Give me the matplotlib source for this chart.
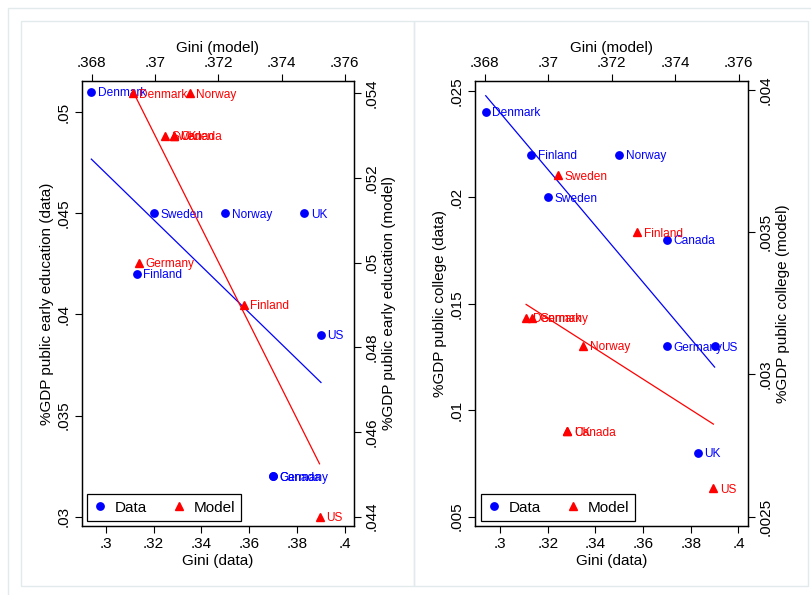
import matplotlib
matplotlib.use("Agg")
import matplotlib.pyplot as plt
import numpy as np
from matplotlib.lines import Line2D
from matplotlib.patches import Rectangle

plt.rcParams['font.family'] = ['Liberation Sans', 'DejaVu Sans']

countries = ['Denmark', 'Finland', 'Norway', 'Sweden', 'UK', 'US', 'Canada', 'Germany']
gini_data = [0.294, 0.313, 0.350, 0.320, 0.383, 0.390, 0.370, 0.370]
gini_model = [0.3693, 0.3728, 0.3711, 0.3703, 0.3706, 0.3752, 0.3706, 0.3695]
early_data = [0.051, 0.042, 0.045, 0.045, 0.045, 0.039, 0.032, 0.032]
early_model = [0.054, 0.049, 0.054, 0.053, 0.053, 0.044, 0.053, 0.050]
college_data = [0.024, 0.022, 0.022, 0.020, 0.008, 0.013, 0.018, 0.013]
college_model = [0.0032, 0.0035, 0.0031, 0.0037, 0.0028, 0.0026, 0.0028, 0.0032]

xticks_data = [0.30, 0.32, 0.34, 0.36, 0.38, 0.40]
xticks_model = [0.368, 0.370, 0.372, 0.374, 0.376]
early_ticks_data = [0.030, 0.035, 0.040, 0.045, 0.050]
early_ticks_model = [0.044, 0.046, 0.048, 0.050, 0.052, 0.054]
college_ticks_data = [0.005, 0.010, 0.015, 0.020, 0.025]
college_ticks_model = [0.0025, 0.0030, 0.0035, 0.0040]

W, H = 811, 595
fig = plt.figure(figsize=(W / 100, H / 100), dpi=100)


def stata(v):
    return f"{v:g}".lstrip('0')


def frac(x0, y0, x1, y1):
    # pixel box (top-left origin) -> figure fraction rect
    return [x0 / W, 1 - y1 / H, (x1 - x0) / W, (y1 - y0) / H]


for b in [(8, 8, 830, 620), (21, 21, 414, 586), (414, 21, 808, 586)]:
    r = frac(*b)
    fig.add_artist(Rectangle((r[0], r[1]), r[2], r[3], transform=fig.transFigure,
                             fill=False, ec='#e2eaec', lw=1))


def panel(box, yd, ym, ylim_d, ylim_m, yt_d, yt_m, ylab_d, ylab_m, xlim_d, leg_x):
    rect = frac(*box)
    ax = fig.add_axes(rect)
    axm = fig.add_axes(rect, facecolor='none')

    # data (blue): bottom x, left y
    ax.plot(gini_data, yd, 'o', color='blue', markersize=5.3, zorder=3)
    for name, x, y in zip(countries, gini_data, yd):
        ax.annotate(name, (x, y), xytext=(4.7, -1), textcoords='offset points',
                    va='center', ha='left', color='blue', fontsize=8.6)
    b1, b0 = np.polyfit(gini_data, yd, 1)
    xs = np.array([min(gini_data), max(gini_data)])
    ax.plot(xs, b0 + b1 * xs, color='blue', lw=0.9)

    # model (red): top x, right y
    axm.plot(gini_model, ym, '^', color='red', markersize=6.2, zorder=3)
    for name, x, y in zip(countries, gini_model, ym):
        axm.annotate(name, (x, y), xytext=(4.7, -1), textcoords='offset points',
                     va='center', ha='left', color='red', fontsize=8.6)
    m1, m0 = np.polyfit(gini_model, ym, 1)
    xs = np.array([min(gini_model), max(gini_model)])
    axm.plot(xs, m0 + m1 * xs, color='red', lw=0.9)

    ax.set_xlim(*xlim_d)
    ax.set_ylim(*ylim_d)
    axm.set_xlim(0.36769, 0.37629)
    axm.set_ylim(*ylim_m)

    ax.set_xticks(xticks_data)
    ax.set_xticklabels([stata(v) for v in xticks_data])
    ax.set_yticks(yt_d)
    ax.set_yticklabels([stata(v) for v in yt_d], rotation=90, va='center')
    axm.xaxis.tick_top()
    axm.xaxis.set_label_position('top')
    axm.yaxis.tick_right()
    axm.yaxis.set_label_position('right')
    axm.set_xticks(xticks_model)
    axm.set_xticklabels([stata(v) for v in xticks_model])
    axm.set_yticks(yt_m)
    axm.set_yticklabels([stata(v) for v in yt_m], rotation=90, va='center')

    for a in (ax, axm):
        a.tick_params(direction='out', length=5, width=0.8, labelsize=11, pad=3)
        for s in a.spines.values():
            s.set_linewidth(0.9)

    ax.set_xlabel('Gini (data)', fontsize=11, labelpad=2)
    ax.set_ylabel(ylab_d, fontsize=11, labelpad=2)
    axm.set_xlabel('Gini (model)', fontsize=11, labelpad=3)
    axm.set_ylabel(ylab_m, fontsize=11, labelpad=2)

    handles = [Line2D([], [], marker='o', ls='none', color='blue', markersize=5.3),
               Line2D([], [], marker='^', ls='none', color='red', markersize=6.2)]
    leg = axm.legend(handles, ['Data', 'Model'], loc='lower left',
                     bbox_to_anchor=(leg_x, 0.012), ncol=2, fontsize=11,
                     fancybox=False, edgecolor='black', framealpha=1,
                     borderaxespad=0, handlelength=1, handletextpad=0.45,
                     columnspacing=1.6, borderpad=0.4)
    leg.get_frame().set_linewidth(0.9)


panel((82, 81, 354, 526), early_data, early_model,
      (0.02954, 0.05153), (0.04378, 0.05429),
      early_ticks_data, early_ticks_model,
      '%GDP public early education (data)', '%GDP public early education (model)',
      (0.2901, 0.4038), 0.017)

panel((475, 81, 748, 526), college_data, college_model,
      (0.00456, 0.02546), (0.002467, 0.004032),
      college_ticks_data, college_ticks_model,
      '%GDP public college (data)', '%GDP public college (model)',
      (0.2895, 0.4040), 0.021)

fig.savefig('out.png', dpi=100)
